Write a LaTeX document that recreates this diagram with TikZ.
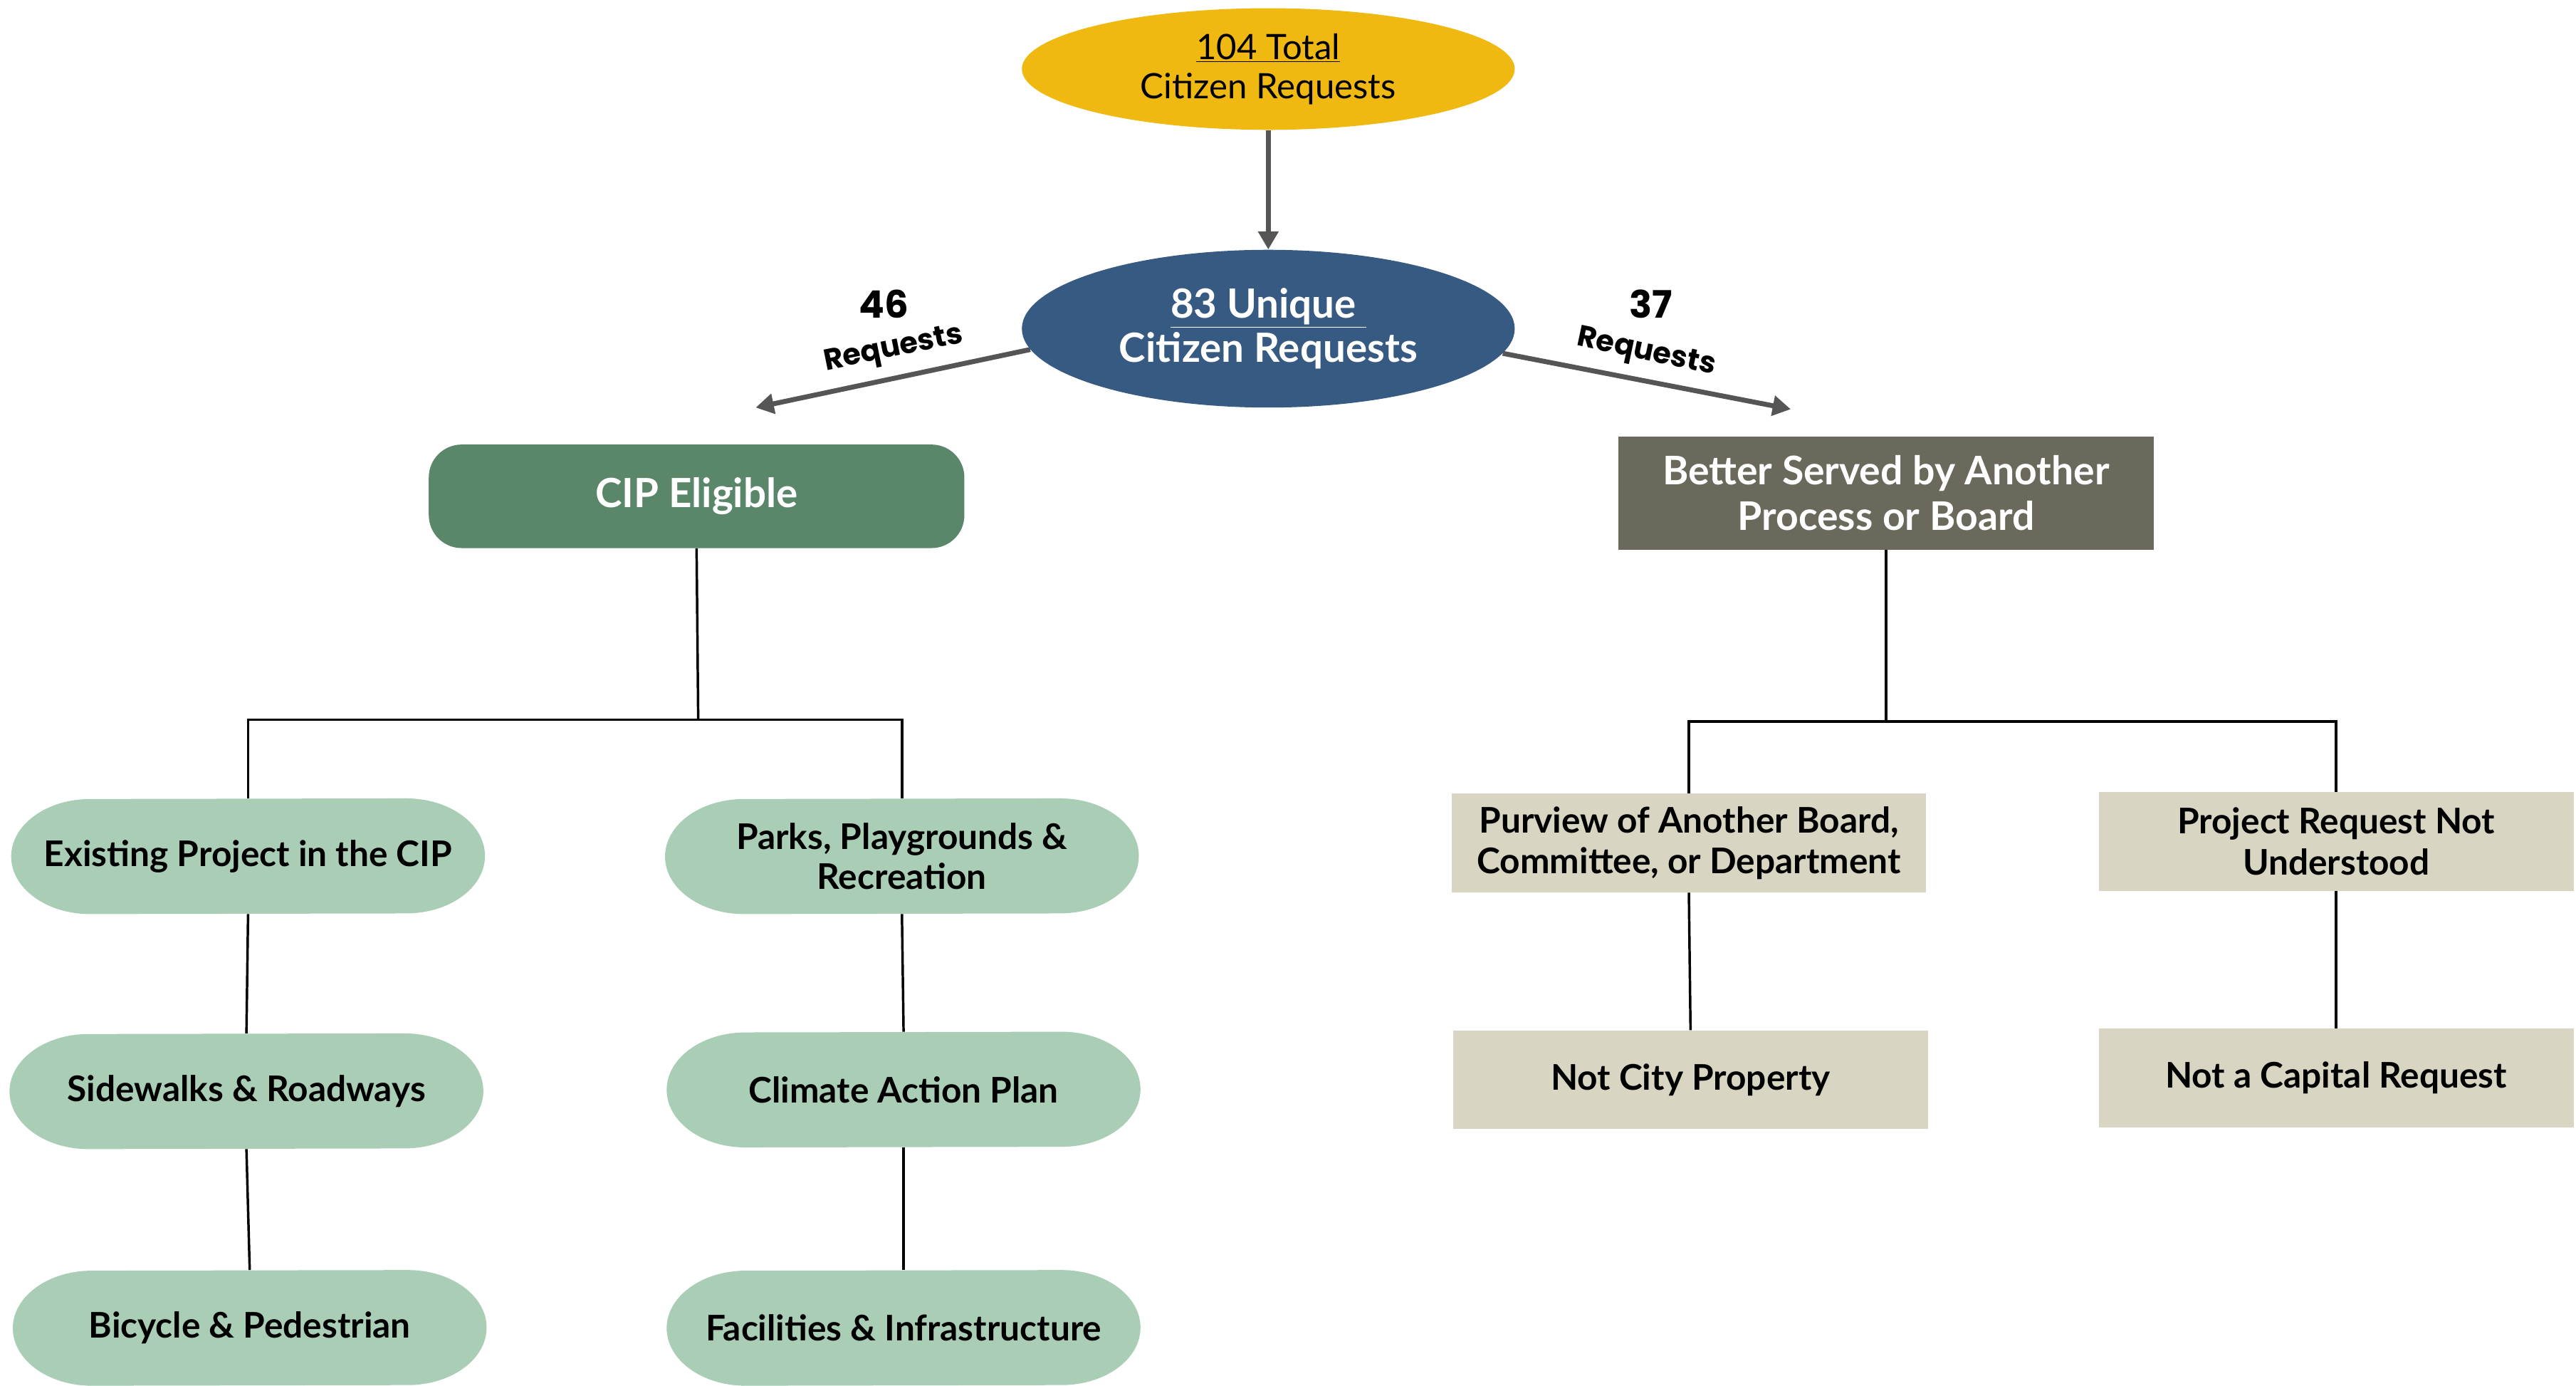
\documentclass[tikz,border=0pt]{standalone}
\usepackage{fontspec}
\setmainfont{Lato}
\newfontfamily\popfont{Poppins}
\usetikzlibrary{arrows.meta,backgrounds,shapes.geometric}
\definecolor{gold}{HTML}{F0B912}
\definecolor{navy}{HTML}{375A82}
\definecolor{dgreen}{HTML}{5A866A}
\definecolor{lgreen}{HTML}{AACDB5}
\definecolor{dgray}{HTML}{6B695B}
\definecolor{beige}{HTML}{D8D5C2}
\definecolor{arrowgray}{HTML}{555555}
\tikzset{
  pillnode/.style={align=center, text=black, inner sep=0pt, minimum width=288pt, minimum height=70pt,
    font=\bfseries\fontsize{21.5}{24}\selectfont},
  boxnode/.style={align=center, text=black, fill=beige, inner sep=0pt, minimum width=289pt, minimum height=60pt,
    font=\bfseries\fontsize{21.5}{25}\selectfont},
  conn/.style={draw=black, line width=1.5pt},
  bigarrow/.style={draw=arrowgray, line width=3pt, -{Triangle[length=11pt,width=12pt]}},
  lbl/.style={font=\popfont\bfseries\fontsize{18}{20}\selectfont, inner sep=0pt},
  numlbl/.style={font=\popfont\bfseries\fontsize{23}{24}\selectfont, inner sep=0pt}
}
\begin{document}
\begin{tikzpicture}[x=1pt,y=-1pt]
\useasboundingbox (0,0) rectangle (1568,843);
% top ellipses
\node[ellipse, fill=gold, minimum width=300pt, minimum height=74pt, inner sep=0pt, align=center,
  font=\fontsize{21.3}{24}\selectfont] (tot) at (772,42) {\underline{104 Total}\\Citizen Requests};
\node[ellipse, fill=navy, minimum width=300pt, minimum height=96pt, inner sep=0pt, align=center, text=white,
  font=\bfseries\fontsize{24.5}{27}\selectfont] (uniq) at (772,200) {\underline{83 Unique\ }\\Citizen Requests};
\draw[bigarrow] (tot.south) -- (uniq.north);
\coordinate (la) at (460,248);
\coordinate (ra) at (1090,249);
\draw[bigarrow] (uniq.185) -- (la);
\draw[bigarrow] (uniq.354) -- (ra);
\node[numlbl] (n46) at (538,185) {46};
\node[lbl, rotate=11.5] (r46) at (544,213) {Requests};
\node[numlbl] (n37) at (1005,185) {37};
\node[lbl, rotate=-12] (r37) at (1002,215) {Requests};
% second level
\node[fill=dgreen, rounded corners=20pt, minimum width=326pt, minimum height=63pt, inner sep=0pt, text=white,
  font=\bfseries\fontsize{24.5}{26}\selectfont] (cip) at (424,302) {CIP Eligible};
\node[fill=dgray, minimum width=326pt, minimum height=69pt, inner sep=0pt, text=white, align=center,
  font=\bfseries\fontsize{24}{28}\selectfont] (bsv) at (1148,300) {Better Served by Another\\Process or Board};
% left pills
\node[pillnode] (ex) at (151,521) {Existing Project in the CIP};
\node[pillnode] (pk) at (549,521) {Parks, Playgrounds \&\\Recreation};
\node[pillnode] (sw) at (150,664) {Sidewalks \& Roadways};
\node[pillnode] (cl) at (550,663) {Climate Action Plan};
\node[pillnode] (bi) at (152,808) {Bicycle \& Pedestrian};
\node[pillnode] (fa) at (550,808) {Facilities \& Infrastructure};
\begin{scope}[on background layer]
\foreach \n in {ex,pk,sw,cl,bi,fa}{
  \fill[lgreen] ([xshift=-48pt]\n.north east) arc[start angle=90,end angle=-90,x radius=48pt,y radius=35pt]
    -- ([xshift=48pt]\n.south west) arc[start angle=270,end angle=90,x radius=48pt,y radius=35pt] -- cycle;
}
\end{scope}
% right boxes
\node[boxnode] (pv) at (1028,513) {Purview of Another Board,\\Committee, or Department};
\node[boxnode] (pr) at (1422,512) {Project Request Not\\Understood};
\node[boxnode] (nc) at (1029,657) {Not City Property};
\node[boxnode] (cap) at (1422,656) {Not a Capital Request};
% connectors left
\coordinate (lj) at (425,438);
\draw[conn] (cip.south) -- (lj);
\draw[conn] (ex.north) |- (lj) -| (pk.north);
\draw[conn] (ex.south) -- (sw.north);
\draw[conn] (sw.south) -- (bi.north);
\draw[conn] (pk.south) -- (cl.north);
\draw[conn] (cl.south) -- (fa.north);
% connectors right
\coordinate (rj) at (1148,439);
\draw[conn] (bsv.south) -- (rj);
\draw[conn] (pv.north) |- (rj) -| (pr.north);
\draw[conn] (pv.south) -- (nc.north);
\draw[conn] (pr.south) -- (cap.north);
\end{tikzpicture}
\end{document}
